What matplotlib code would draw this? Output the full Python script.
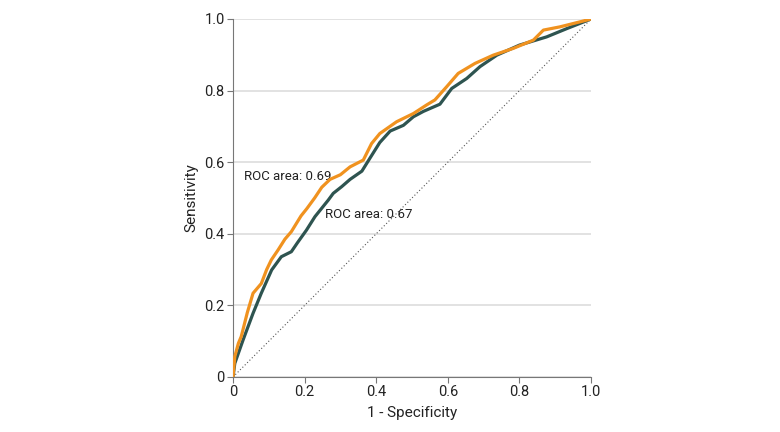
import matplotlib
matplotlib.use("Agg")
import matplotlib.pyplot as plt

# ROC curves (1 - specificity, sensitivity)
fpr_a = [0.0, 0.005, 0.015, 0.023, 0.04, 0.056, 0.079, 0.094, 0.107, 0.126, 0.145, 0.163,
         0.19, 0.206, 0.228, 0.248, 0.271, 0.30, 0.327, 0.364, 0.387, 0.41, 0.457, 0.504,
         0.541, 0.564, 0.597, 0.629, 0.676, 0.727, 0.783, 0.839, 0.867, 0.913, 0.969, 1.0]
tpr_a = [0.0, 0.057, 0.094, 0.113, 0.18, 0.234, 0.261, 0.30, 0.327, 0.355, 0.385, 0.406,
         0.45, 0.47, 0.50, 0.53, 0.552, 0.565, 0.587, 0.606, 0.652, 0.68, 0.713, 0.736,
         0.76, 0.774, 0.811, 0.848, 0.876, 0.899, 0.918, 0.941, 0.969, 0.978, 0.992, 1.0]

fpr_b = [0.0, 0.005, 0.028, 0.056, 0.079, 0.108, 0.135, 0.163, 0.18, 0.205, 0.229, 0.266,
         0.28, 0.304, 0.327, 0.36, 0.383, 0.41, 0.439, 0.476, 0.504, 0.532, 0.578, 0.611,
         0.653, 0.69, 0.737, 0.80, 0.876, 0.932, 1.0]
tpr_b = [0.0, 0.038, 0.103, 0.178, 0.234, 0.299, 0.336, 0.35, 0.375, 0.41, 0.448, 0.494,
         0.513, 0.532, 0.552, 0.575, 0.612, 0.655, 0.687, 0.703, 0.727, 0.742, 0.762, 0.806,
         0.834, 0.867, 0.899, 0.927, 0.95, 0.973, 1.0]

labels = ["ROC area: 0.69", "ROC area: 0.67"]
ticks = [0, 0.2, 0.4, 0.6, 0.8, 1.0]
tick_labels = ["0", "0.2", "0.4", "0.6", "0.8", "1.0"]

plt.rcParams['font.family'] = ['Roboto', 'DejaVu Sans']

fig = plt.figure(figsize=(7.8, 4.32), dpi=100)
ax = fig.add_axes([233 / 780, 55 / 432, 358 / 780, 358 / 432])

# reference diagonal
ax.plot([0, 1], [0, 1], color="#555555", lw=0.8, ls=(0, (1, 2)), zorder=2)

ax.plot(fpr_b, tpr_b, color="#2E5450", lw=2.3, zorder=3)
ax.plot(fpr_a, tpr_a, color="#F0921F", lw=2.3, zorder=4)

ax.text(0.031, 0.561, labels[0], fontsize=9.5, ha="left", va="center", color="#222222")
ax.text(0.257, 0.455, labels[1], fontsize=9.5, ha="left", va="center", color="#222222")

ax.set_xlim(0, 1)
ax.set_ylim(0, 1)
ax.set_xticks(ticks)
ax.set_xticklabels(tick_labels)
ax.set_yticks(ticks)
ax.set_yticklabels(tick_labels)
ax.tick_params(labelsize=10.5, color="#777777", length=4, width=0.8, labelcolor="#222222", pad=2)

ax.yaxis.grid(True, color="#dddddd", lw=1.2)
ax.set_axisbelow(True)
for s in ["top", "right"]:
    ax.spines[s].set_visible(False)
for s in ["left", "bottom"]:
    ax.spines[s].set_color("#777777")
    ax.spines[s].set_linewidth(0.8)

ax.set_xlabel("1 - Specificity", fontsize=11, color="#222222", labelpad=5)
ax.set_ylabel("Sensitivity", fontsize=11, color="#222222", labelpad=4)

fig.savefig("out.png", dpi=100)
